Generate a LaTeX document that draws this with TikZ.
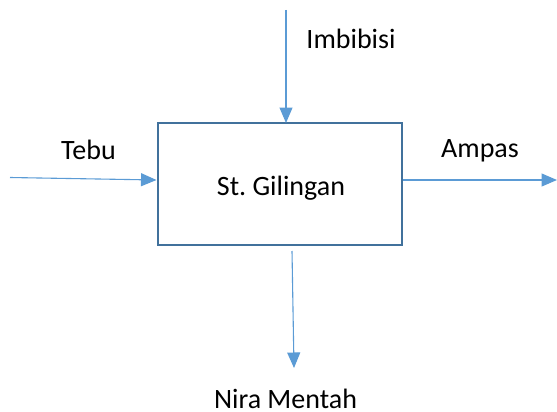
\documentclass[tikz,border=0pt]{standalone}
\usepackage{fontspec}
\setmainfont{Carlito}
\usetikzlibrary{arrows.meta}
\definecolor{flowblue}{HTML}{5B9BD5}
\definecolor{boxedge}{HTML}{41719C}
\tikzset{
  flow/.style={draw=flowblue, line width=1.1pt,
    -{Triangle[length=15.5pt,width=13pt]}},
  unitbox/.style={draw=boxedge, line width=2.5pt, fill=white,
    minimum width=244pt, minimum height=122pt, inner sep=0pt},
  lbl/.style={inner sep=0pt, anchor=base, font=\fontsize{28}{32}\selectfont}
}
\begin{document}
\begin{tikzpicture}[x=1pt,y=-1pt]
  \useasboundingbox (0,0) rectangle (557,412);
  % mill station
  \node[unitbox] (box) at (280,184) {};
  \node[lbl] (name) at (281,195) {St.\ Gilingan};
  % stream end points
  \coordinate (tebuIn) at (10,177.5);
  \coordinate (tebuTip) at (156.5,180);
  \coordinate (imbIn) at (286,10);
  \coordinate (imbTip) at (286,123);
  \coordinate (ampFrom) at (403,180);
  \coordinate (ampOut) at (557,180);
  \coordinate (niraFrom) at (292,251);
  \coordinate (niraOut) at (294,368);
  % streams
  \draw[flow] (tebuIn) -- (tebuTip);
  \draw[flow] (imbIn) -- (imbTip);
  \draw[flow] (ampFrom) -- (ampOut);
  \draw[flow] (niraFrom) -- (niraOut);
  % stream labels
  \node[lbl] (tebu) at (88.5,159) {Tebu};
  \node[lbl] (imbibisi) at (351,48.5) {Imbibisi};
  \node[lbl] (ampas) at (480,157) {Ampas};
  \node[lbl] (nira) at (285.5,408) {Nira Mentah};
\end{tikzpicture}
\end{document}
